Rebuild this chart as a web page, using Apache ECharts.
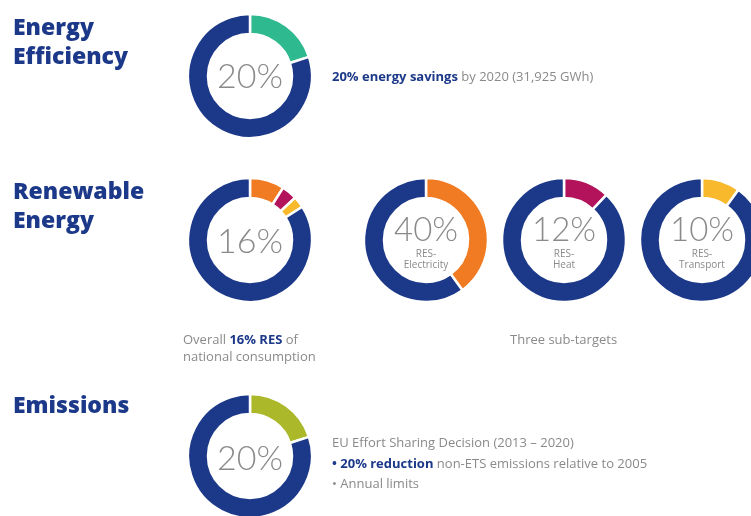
<!DOCTYPE html>
<html>
<head>
<meta charset="utf-8">
<script src="https://cdn.jsdelivr.net/npm/echarts@6/dist/echarts.min.js"></script>
<style>
  html, body { margin: 0; padding: 0; background: #fff; }
  #chart { width: 751px; height: 516px; }
</style>
</head>
<body>
<div id="chart"></div>
<script>
// Targets (percent of the ring filled by the coloured share)
const efficiencyTarget = 20;
const resOverallParts = [9, 4, 3];            // electricity, heat, transport shares of the 16% ring
const resOverallLabel = 16;
const resSubTargets = [40, 12, 10];
const resSubNames = ['RES-\nElectricity', 'RES-\nHeat', 'RES-\nTransport'];
const emissionsTarget = 20;

const NAVY = '#1b3889';
const GRAY = '#8a8a8a';
const FONT = '"Open Sans", "Noto Sans", sans-serif';
const LIGHT_FONT = 'Lato, "Open Sans", sans-serif';
const partColors = ['#f07b22', '#b3135a', '#f8b92c'];

const chart = echarts.init(document.getElementById('chart'), null, { renderer: 'canvas' });

const RADIUS = [42, 62];

function donut(center, slices) {
  // slices: [{value, color}], remainder filled with navy
  const used = slices.reduce((s, d) => s + d.value, 0);
  const data = slices.map(d => ({ value: d.value, itemStyle: { color: d.color } }));
  data.push({ value: 100 - used, itemStyle: { color: NAVY } });
  return {
    type: 'pie',
    center: center,
    radius: RADIUS,
    startAngle: 90,
    clockwise: true,
    silent: true,
    animation: false,
    label: { show: false },
    labelLine: { show: false },
    itemStyle: { borderColor: '#fff', borderWidth: 2.5 },
    data: data
  };
}

const subCentersX = [426, 564, 702];

const series = [
  donut([250, 76], [{ value: efficiencyTarget, color: '#2eb98e' }]),
  donut([250, 240], resOverallParts.map((v, i) => ({ value: v, color: partColors[i] }))),
  ...resSubTargets.map((v, i) => donut([subCentersX[i], 240], [{ value: v, color: partColors[i] }])),
  donut([250, 456], [{ value: emissionsTarget, color: '#aab82a' }])
];

function centerText(x, y, txt, size) {
  return {
    type: 'text', x: x, y: y,
    style: { text: txt, fill: GRAY, font: '300 ' + size + 'px ' + LIGHT_FONT, align: 'center', verticalAlign: 'middle' }
  };
}

function heading(y, txt) {
  return {
    type: 'text', x: 13, y: y,
    style: { text: txt, fill: NAVY, font: '800 23px ' + FONT, lineHeight: 29, verticalAlign: 'top' }
  };
}

function richLine(x, y, parts) {
  return {
    type: 'text', x: x, y: y,
    style: {
      text: parts.map(p => '{' + (p[1] ? 'b' : 'n') + '|' + p[0] + '}').join(''),
      verticalAlign: 'middle',
      rich: {
        b: { fill: NAVY, fontWeight: 'bold', fontSize: 13, fontFamily: FONT },
        n: { fill: GRAY, fontSize: 13, fontFamily: FONT }
      }
    }
  };
}

const graphics = [
  heading(14, 'Energy\nEfficiency'),
  heading(178, 'Renewable\nEnergy'),
  heading(392, 'Emissions'),
  centerText(250, 77, efficiencyTarget + '%', 34),
  centerText(250, 242, resOverallLabel + '%', 34),
  centerText(250, 459, emissionsTarget + '%', 34),
  richLine(332, 77, [[efficiencyTarget + '% energy savings', true], [' by 2020 (31,925 GWh)', false]]),
  richLine(183, 340, [['Overall ', false], [resOverallLabel + '% RES', true], [' of', false]]),
  richLine(183, 357, [['national consumption', false]]),
  richLine(510, 340, [['Three sub-targets', false]]),
  richLine(332, 443, [['EU Effort Sharing Decision (2013 – 2020)', false]]),
  richLine(332, 464, [['• ', true], [emissionsTarget + '% reduction', true], [' non-ETS emissions relative to 2005', false]]),
  richLine(332, 484, [['• Annual limits', false]])
];

resSubTargets.forEach((v, i) => {
  graphics.push(centerText(subCentersX[i], 230, v + '%', 33));
  graphics.push({
    type: 'text', x: subCentersX[i], y: 260,
    style: { text: resSubNames[i], fill: GRAY, font: '10px ' + FONT, lineHeight: 11, align: 'center', verticalAlign: 'middle' }
  });
});

chart.setOption({
  backgroundColor: '#fff',
  animation: false,
  series: series,
  graphic: graphics
});
</script>
</body>
</html>
